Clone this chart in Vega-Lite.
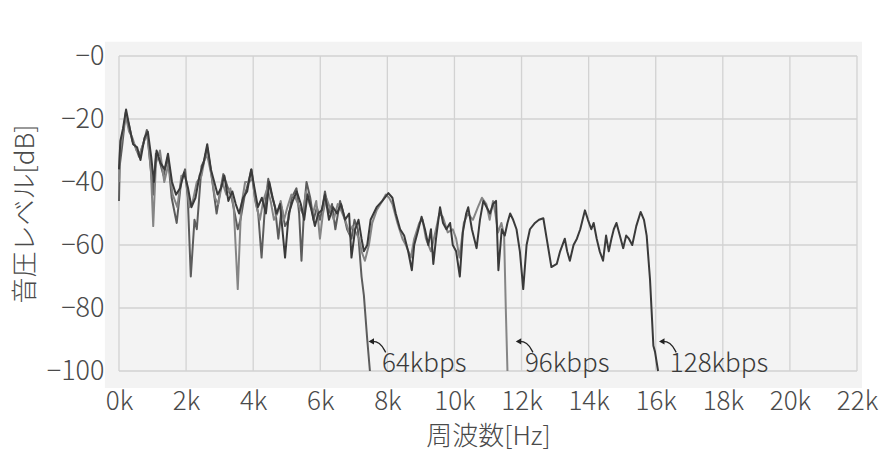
{
  "$schema": "https://vega.github.io/schema/vega-lite/v6.json",
  "autosize": {"type": "none"},
  "width": 738,
  "height": 315,
  "padding": {"left": 119, "top": 56, "right": 33, "bottom": 82},
  "background": "white",
  "config": {
    "view": {"stroke": null},
    "axis": {"grid": false, "domain": false, "ticks": false, "labelFont": "Noto Sans CJK JP", "labelFontSize": 27, "labelFontWeight": 300, "labelColor": "#4a4a4a", "titleFont": "Noto Sans CJK JP", "titleFontSize": 26, "titleColor": "#4a4a4a", "titleFontWeight": 300, "labelOverlap": false, "labelFlush": false, "labelLimit": 400}
  },
  "datasets": {
    "spec": [
      {"s": "64kbps", "f": 0.00, "db": -46}, {"s": "64kbps", "f": 0.02, "db": -35}, {"s": "64kbps", "f": 0.10, "db": -28}, {"s": "64kbps", "f": 0.20, "db": -18}, {"s": "64kbps", "f": 0.30, "db": -22}, {"s": "64kbps", "f": 0.40, "db": -27}, {"s": "64kbps", "f": 0.50, "db": -29}, {"s": "64kbps", "f": 0.60, "db": -32}, {"s": "64kbps", "f": 0.72, "db": -28}, {"s": "64kbps", "f": 0.83, "db": -23.5}, {"s": "64kbps", "f": 0.92, "db": -33}, {"s": "64kbps", "f": 1.02, "db": -44}, {"s": "64kbps", "f": 1.10, "db": -31}, {"s": "64kbps", "f": 1.20, "db": -33}, {"s": "64kbps", "f": 1.33, "db": -38}, {"s": "64kbps", "f": 1.46, "db": -32}, {"s": "64kbps", "f": 1.57, "db": -45}, {"s": "64kbps", "f": 1.72, "db": -53}, {"s": "64kbps", "f": 1.85, "db": -40}, {"s": "64kbps", "f": 1.97, "db": -36}, {"s": "64kbps", "f": 2.05, "db": -45}, {"s": "64kbps", "f": 2.14, "db": -70}, {"s": "64kbps", "f": 2.25, "db": -52}, {"s": "64kbps", "f": 2.32, "db": -55}, {"s": "64kbps", "f": 2.46, "db": -35}, {"s": "64kbps", "f": 2.55, "db": -33}, {"s": "64kbps", "f": 2.63, "db": -29}, {"s": "64kbps", "f": 2.72, "db": -35}, {"s": "64kbps", "f": 2.81, "db": -42}, {"s": "64kbps", "f": 2.91, "db": -50}, {"s": "64kbps", "f": 3.00, "db": -44}, {"s": "64kbps", "f": 3.11, "db": -37.5}, {"s": "64kbps", "f": 3.25, "db": -42}, {"s": "64kbps", "f": 3.36, "db": -45}, {"s": "64kbps", "f": 3.45, "db": -50}, {"s": "64kbps", "f": 3.54, "db": -55}, {"s": "64kbps", "f": 3.62, "db": -52}, {"s": "64kbps", "f": 3.75, "db": -44}, {"s": "64kbps", "f": 3.81, "db": -42}, {"s": "64kbps", "f": 3.95, "db": -36}, {"s": "64kbps", "f": 4.05, "db": -45}, {"s": "64kbps", "f": 4.15, "db": -50}, {"s": "64kbps", "f": 4.25, "db": -64}, {"s": "64kbps", "f": 4.35, "db": -48}, {"s": "64kbps", "f": 4.45, "db": -39}, {"s": "64kbps", "f": 4.55, "db": -44}, {"s": "64kbps", "f": 4.65, "db": -48}, {"s": "64kbps", "f": 4.75, "db": -58}, {"s": "64kbps", "f": 4.85, "db": -48}, {"s": "64kbps", "f": 4.95, "db": -54}, {"s": "64kbps", "f": 5.05, "db": -52}, {"s": "64kbps", "f": 5.15, "db": -45}, {"s": "64kbps", "f": 5.29, "db": -42}, {"s": "64kbps", "f": 5.37, "db": -50}, {"s": "64kbps", "f": 5.44, "db": -65}, {"s": "64kbps", "f": 5.52, "db": -48}, {"s": "64kbps", "f": 5.59, "db": -40}, {"s": "64kbps", "f": 5.70, "db": -45}, {"s": "64kbps", "f": 5.80, "db": -52}, {"s": "64kbps", "f": 5.90, "db": -48}, {"s": "64kbps", "f": 5.99, "db": -52}, {"s": "64kbps", "f": 6.07, "db": -48}, {"s": "64kbps", "f": 6.14, "db": -43}, {"s": "64kbps", "f": 6.25, "db": -50}, {"s": "64kbps", "f": 6.35, "db": -47}, {"s": "64kbps", "f": 6.45, "db": -55}, {"s": "64kbps", "f": 6.59, "db": -46}, {"s": "64kbps", "f": 6.69, "db": -50}, {"s": "64kbps", "f": 6.80, "db": -55}, {"s": "64kbps", "f": 6.93, "db": -58}, {"s": "64kbps", "f": 7.02, "db": -52}, {"s": "64kbps", "f": 7.12, "db": -55}, {"s": "64kbps", "f": 7.23, "db": -70}, {"s": "64kbps", "f": 7.30, "db": -76}, {"s": "64kbps", "f": 7.40, "db": -90}, {"s": "64kbps", "f": 7.48, "db": -100},

      {"s": "96kbps", "f": 0.00, "db": -40}, {"s": "96kbps", "f": 0.03, "db": -30}, {"s": "96kbps", "f": 0.10, "db": -25}, {"s": "96kbps", "f": 0.20, "db": -19}, {"s": "96kbps", "f": 0.30, "db": -24}, {"s": "96kbps", "f": 0.40, "db": -26}, {"s": "96kbps", "f": 0.52, "db": -30}, {"s": "96kbps", "f": 0.62, "db": -31}, {"s": "96kbps", "f": 0.75, "db": -27}, {"s": "96kbps", "f": 0.85, "db": -25}, {"s": "96kbps", "f": 0.95, "db": -36}, {"s": "96kbps", "f": 1.02, "db": -54}, {"s": "96kbps", "f": 1.10, "db": -34}, {"s": "96kbps", "f": 1.22, "db": -30}, {"s": "96kbps", "f": 1.35, "db": -40}, {"s": "96kbps", "f": 1.48, "db": -34}, {"s": "96kbps", "f": 1.60, "db": -44}, {"s": "96kbps", "f": 1.74, "db": -48}, {"s": "96kbps", "f": 1.86, "db": -38}, {"s": "96kbps", "f": 1.98, "db": -38}, {"s": "96kbps", "f": 2.10, "db": -48}, {"s": "96kbps", "f": 2.20, "db": -46}, {"s": "96kbps", "f": 2.32, "db": -40}, {"s": "96kbps", "f": 2.46, "db": -38}, {"s": "96kbps", "f": 2.58, "db": -31}, {"s": "96kbps", "f": 2.66, "db": -33}, {"s": "96kbps", "f": 2.76, "db": -38}, {"s": "96kbps", "f": 2.86, "db": -45}, {"s": "96kbps", "f": 2.96, "db": -47}, {"s": "96kbps", "f": 3.08, "db": -40}, {"s": "96kbps", "f": 3.20, "db": -44}, {"s": "96kbps", "f": 3.32, "db": -42}, {"s": "96kbps", "f": 3.42, "db": -48}, {"s": "96kbps", "f": 3.54, "db": -74}, {"s": "96kbps", "f": 3.64, "db": -48}, {"s": "96kbps", "f": 3.76, "db": -40}, {"s": "96kbps", "f": 3.88, "db": -40}, {"s": "96kbps", "f": 3.98, "db": -39}, {"s": "96kbps", "f": 4.08, "db": -47}, {"s": "96kbps", "f": 4.20, "db": -52}, {"s": "96kbps", "f": 4.30, "db": -46}, {"s": "96kbps", "f": 4.42, "db": -42}, {"s": "96kbps", "f": 4.52, "db": -46}, {"s": "96kbps", "f": 4.62, "db": -52}, {"s": "96kbps", "f": 4.72, "db": -50}, {"s": "96kbps", "f": 4.82, "db": -46}, {"s": "96kbps", "f": 4.92, "db": -52}, {"s": "96kbps", "f": 5.02, "db": -48}, {"s": "96kbps", "f": 5.14, "db": -44}, {"s": "96kbps", "f": 5.26, "db": -45}, {"s": "96kbps", "f": 5.38, "db": -48}, {"s": "96kbps", "f": 5.48, "db": -50}, {"s": "96kbps", "f": 5.58, "db": -43}, {"s": "96kbps", "f": 5.68, "db": -47}, {"s": "96kbps", "f": 5.78, "db": -50}, {"s": "96kbps", "f": 5.88, "db": -46}, {"s": "96kbps", "f": 5.99, "db": -58}, {"s": "96kbps", "f": 6.08, "db": -50}, {"s": "96kbps", "f": 6.18, "db": -45}, {"s": "96kbps", "f": 6.28, "db": -48}, {"s": "96kbps", "f": 6.40, "db": -52}, {"s": "96kbps", "f": 6.52, "db": -47}, {"s": "96kbps", "f": 6.62, "db": -49}, {"s": "96kbps", "f": 6.74, "db": -52}, {"s": "96kbps", "f": 6.86, "db": -56}, {"s": "96kbps", "f": 6.96, "db": -54}, {"s": "96kbps", "f": 7.06, "db": -56}, {"s": "96kbps", "f": 7.16, "db": -58}, {"s": "96kbps", "f": 7.23, "db": -62}, {"s": "96kbps", "f": 7.33, "db": -65}, {"s": "96kbps", "f": 7.45, "db": -60}, {"s": "96kbps", "f": 7.55, "db": -53}, {"s": "96kbps", "f": 7.68, "db": -49}, {"s": "96kbps", "f": 7.85, "db": -46}, {"s": "96kbps", "f": 7.95, "db": -44}, {"s": "96kbps", "f": 8.05, "db": -45}, {"s": "96kbps", "f": 8.15, "db": -47}, {"s": "96kbps", "f": 8.30, "db": -53}, {"s": "96kbps", "f": 8.45, "db": -58}, {"s": "96kbps", "f": 8.55, "db": -60}, {"s": "96kbps", "f": 8.70, "db": -64}, {"s": "96kbps", "f": 8.80, "db": -58}, {"s": "96kbps", "f": 8.95, "db": -53}, {"s": "96kbps", "f": 9.05, "db": -52}, {"s": "96kbps", "f": 9.15, "db": -58}, {"s": "96kbps", "f": 9.30, "db": -62}, {"s": "96kbps", "f": 9.45, "db": -55}, {"s": "96kbps", "f": 9.55, "db": -50}, {"s": "96kbps", "f": 9.65, "db": -51}, {"s": "96kbps", "f": 9.80, "db": -56}, {"s": "96kbps", "f": 9.95, "db": -55}, {"s": "96kbps", "f": 10.05, "db": -58}, {"s": "96kbps", "f": 10.15, "db": -64}, {"s": "96kbps", "f": 10.28, "db": -53}, {"s": "96kbps", "f": 10.40, "db": -50}, {"s": "96kbps", "f": 10.55, "db": -52}, {"s": "96kbps", "f": 10.70, "db": -48}, {"s": "96kbps", "f": 10.82, "db": -45}, {"s": "96kbps", "f": 10.95, "db": -47}, {"s": "96kbps", "f": 11.05, "db": -52}, {"s": "96kbps", "f": 11.15, "db": -46}, {"s": "96kbps", "f": 11.22, "db": -50}, {"s": "96kbps", "f": 11.30, "db": -56}, {"s": "96kbps", "f": 11.40, "db": -53}, {"s": "96kbps", "f": 11.48, "db": -57}, {"s": "96kbps", "f": 11.53, "db": -80}, {"s": "96kbps", "f": 11.58, "db": -100},

      {"s": "128kbps", "f": 0.00, "db": -36}, {"s": "128kbps", "f": 0.04, "db": -27}, {"s": "128kbps", "f": 0.12, "db": -23}, {"s": "128kbps", "f": 0.21, "db": -17}, {"s": "128kbps", "f": 0.32, "db": -23}, {"s": "128kbps", "f": 0.42, "db": -28}, {"s": "128kbps", "f": 0.54, "db": -29}, {"s": "128kbps", "f": 0.64, "db": -33}, {"s": "128kbps", "f": 0.76, "db": -26}, {"s": "128kbps", "f": 0.86, "db": -24}, {"s": "128kbps", "f": 0.96, "db": -32}, {"s": "128kbps", "f": 1.04, "db": -40}, {"s": "128kbps", "f": 1.12, "db": -30}, {"s": "128kbps", "f": 1.24, "db": -34}, {"s": "128kbps", "f": 1.36, "db": -36}, {"s": "128kbps", "f": 1.46, "db": -31}, {"s": "128kbps", "f": 1.58, "db": -40}, {"s": "128kbps", "f": 1.70, "db": -44}, {"s": "128kbps", "f": 1.82, "db": -42}, {"s": "128kbps", "f": 1.94, "db": -37}, {"s": "128kbps", "f": 2.06, "db": -42}, {"s": "128kbps", "f": 2.16, "db": -48}, {"s": "128kbps", "f": 2.28, "db": -45}, {"s": "128kbps", "f": 2.40, "db": -38}, {"s": "128kbps", "f": 2.52, "db": -34}, {"s": "128kbps", "f": 2.63, "db": -28}, {"s": "128kbps", "f": 2.74, "db": -36}, {"s": "128kbps", "f": 2.84, "db": -40}, {"s": "128kbps", "f": 2.94, "db": -44}, {"s": "128kbps", "f": 3.04, "db": -42}, {"s": "128kbps", "f": 3.14, "db": -38}, {"s": "128kbps", "f": 3.26, "db": -46}, {"s": "128kbps", "f": 3.38, "db": -43}, {"s": "128kbps", "f": 3.48, "db": -47}, {"s": "128kbps", "f": 3.58, "db": -50}, {"s": "128kbps", "f": 3.70, "db": -45}, {"s": "128kbps", "f": 3.82, "db": -43}, {"s": "128kbps", "f": 3.94, "db": -36}, {"s": "128kbps", "f": 4.04, "db": -42}, {"s": "128kbps", "f": 4.14, "db": -48}, {"s": "128kbps", "f": 4.26, "db": -45}, {"s": "128kbps", "f": 4.38, "db": -50}, {"s": "128kbps", "f": 4.48, "db": -40}, {"s": "128kbps", "f": 4.58, "db": -45}, {"s": "128kbps", "f": 4.70, "db": -50}, {"s": "128kbps", "f": 4.80, "db": -47}, {"s": "128kbps", "f": 4.95, "db": -64}, {"s": "128kbps", "f": 5.06, "db": -50}, {"s": "128kbps", "f": 5.18, "db": -46}, {"s": "128kbps", "f": 5.30, "db": -43}, {"s": "128kbps", "f": 5.42, "db": -47}, {"s": "128kbps", "f": 5.52, "db": -52}, {"s": "128kbps", "f": 5.62, "db": -44}, {"s": "128kbps", "f": 5.72, "db": -48}, {"s": "128kbps", "f": 5.84, "db": -54}, {"s": "128kbps", "f": 5.94, "db": -50}, {"s": "128kbps", "f": 6.04, "db": -49}, {"s": "128kbps", "f": 6.14, "db": -44}, {"s": "128kbps", "f": 6.26, "db": -52}, {"s": "128kbps", "f": 6.38, "db": -48}, {"s": "128kbps", "f": 6.50, "db": -50}, {"s": "128kbps", "f": 6.62, "db": -47}, {"s": "128kbps", "f": 6.74, "db": -52}, {"s": "128kbps", "f": 6.86, "db": -50}, {"s": "128kbps", "f": 6.93, "db": -64}, {"s": "128kbps", "f": 7.04, "db": -55}, {"s": "128kbps", "f": 7.14, "db": -52}, {"s": "128kbps", "f": 7.23, "db": -58}, {"s": "128kbps", "f": 7.30, "db": -62}, {"s": "128kbps", "f": 7.40, "db": -60}, {"s": "128kbps", "f": 7.50, "db": -52}, {"s": "128kbps", "f": 7.68, "db": -48}, {"s": "128kbps", "f": 7.85, "db": -46}, {"s": "128kbps", "f": 8.03, "db": -43.5}, {"s": "128kbps", "f": 8.15, "db": -45}, {"s": "128kbps", "f": 8.25, "db": -50}, {"s": "128kbps", "f": 8.38, "db": -55}, {"s": "128kbps", "f": 8.50, "db": -57}, {"s": "128kbps", "f": 8.62, "db": -62}, {"s": "128kbps", "f": 8.73, "db": -68}, {"s": "128kbps", "f": 8.80, "db": -60}, {"s": "128kbps", "f": 8.90, "db": -56}, {"s": "128kbps", "f": 9.02, "db": -51}, {"s": "128kbps", "f": 9.12, "db": -55}, {"s": "128kbps", "f": 9.22, "db": -60}, {"s": "128kbps", "f": 9.30, "db": -55}, {"s": "128kbps", "f": 9.37, "db": -66}, {"s": "128kbps", "f": 9.45, "db": -58}, {"s": "128kbps", "f": 9.57, "db": -48}, {"s": "128kbps", "f": 9.66, "db": -53}, {"s": "128kbps", "f": 9.76, "db": -55}, {"s": "128kbps", "f": 9.87, "db": -53}, {"s": "128kbps", "f": 9.95, "db": -60}, {"s": "128kbps", "f": 10.05, "db": -62}, {"s": "128kbps", "f": 10.16, "db": -70}, {"s": "128kbps", "f": 10.25, "db": -56}, {"s": "128kbps", "f": 10.35, "db": -50}, {"s": "128kbps", "f": 10.41, "db": -48}, {"s": "128kbps", "f": 10.52, "db": -55}, {"s": "128kbps", "f": 10.66, "db": -61}, {"s": "128kbps", "f": 10.76, "db": -52}, {"s": "128kbps", "f": 10.86, "db": -46}, {"s": "128kbps", "f": 10.96, "db": -48}, {"s": "128kbps", "f": 11.06, "db": -50}, {"s": "128kbps", "f": 11.15, "db": -47}, {"s": "128kbps", "f": 11.24, "db": -46}, {"s": "128kbps", "f": 11.31, "db": -68}, {"s": "128kbps", "f": 11.41, "db": -55}, {"s": "128kbps", "f": 11.50, "db": -57}, {"s": "128kbps", "f": 11.58, "db": -53}, {"s": "128kbps", "f": 11.66, "db": -50}, {"s": "128kbps", "f": 11.75, "db": -52}, {"s": "128kbps", "f": 11.85, "db": -55}, {"s": "128kbps", "f": 11.95, "db": -62}, {"s": "128kbps", "f": 12.05, "db": -74}, {"s": "128kbps", "f": 12.15, "db": -60}, {"s": "128kbps", "f": 12.25, "db": -55}, {"s": "128kbps", "f": 12.40, "db": -53}, {"s": "128kbps", "f": 12.52, "db": -52}, {"s": "128kbps", "f": 12.65, "db": -51.5}, {"s": "128kbps", "f": 12.75, "db": -58}, {"s": "128kbps", "f": 12.89, "db": -67}, {"s": "128kbps", "f": 13.05, "db": -66}, {"s": "128kbps", "f": 13.15, "db": -62}, {"s": "128kbps", "f": 13.29, "db": -58}, {"s": "128kbps", "f": 13.36, "db": -62}, {"s": "128kbps", "f": 13.44, "db": -65}, {"s": "128kbps", "f": 13.55, "db": -60}, {"s": "128kbps", "f": 13.65, "db": -58}, {"s": "128kbps", "f": 13.75, "db": -55}, {"s": "128kbps", "f": 13.89, "db": -49}, {"s": "128kbps", "f": 13.98, "db": -52}, {"s": "128kbps", "f": 14.08, "db": -55}, {"s": "128kbps", "f": 14.15, "db": -53}, {"s": "128kbps", "f": 14.24, "db": -58}, {"s": "128kbps", "f": 14.33, "db": -62}, {"s": "128kbps", "f": 14.43, "db": -65}, {"s": "128kbps", "f": 14.52, "db": -57}, {"s": "128kbps", "f": 14.60, "db": -62}, {"s": "128kbps", "f": 14.68, "db": -58}, {"s": "128kbps", "f": 14.75, "db": -55}, {"s": "128kbps", "f": 14.83, "db": -53}, {"s": "128kbps", "f": 14.93, "db": -57}, {"s": "128kbps", "f": 15.03, "db": -61}, {"s": "128kbps", "f": 15.12, "db": -57}, {"s": "128kbps", "f": 15.20, "db": -58}, {"s": "128kbps", "f": 15.30, "db": -60}, {"s": "128kbps", "f": 15.42, "db": -54}, {"s": "128kbps", "f": 15.55, "db": -49.5}, {"s": "128kbps", "f": 15.65, "db": -52}, {"s": "128kbps", "f": 15.73, "db": -57}, {"s": "128kbps", "f": 15.83, "db": -71}, {"s": "128kbps", "f": 15.93, "db": -92}, {"s": "128kbps", "f": 15.98, "db": -94}, {"s": "128kbps", "f": 16.07, "db": -100}
    ],
    "panel": [{"x1": -0.42, "x2": 22.15, "y1": -105.4, "y2": 4.5}],
    "vgrid": [{"v": 0}, {"v": 2}, {"v": 4}, {"v": 6}, {"v": 8}, {"v": 10}, {"v": 12}, {"v": 14}, {"v": 16}, {"v": 18}, {"v": 20}, {"v": 22}],
    "hgrid": [{"v": 0}, {"v": -20}, {"v": -40}, {"v": -60}, {"v": -80}, {"v": -100}],
    "labels": [
      {"label": "64kbps", "f": 7.84, "db": -100.4},
      {"label": "96kbps", "f": 12.1, "db": -100.4},
      {"label": "128kbps", "f": 16.42, "db": -100.4}
    ],
    "arrows": [
      {"a": "64kbps", "i": 0, "f": 7.49, "db": -90.6}, {"a": "64kbps", "i": 1, "f": 7.78, "db": -90.7}, {"a": "64kbps", "i": 2, "f": 7.95, "db": -94.1},
      {"a": "96kbps", "i": 0, "f": 11.88, "db": -90.6}, {"a": "96kbps", "i": 1, "f": 12.17, "db": -90.7}, {"a": "96kbps", "i": 2, "f": 12.34, "db": -94.1},
      {"a": "128kbps", "i": 0, "f": 16.15, "db": -90.6}, {"a": "128kbps", "i": 1, "f": 16.44, "db": -90.7}, {"a": "128kbps", "i": 2, "f": 16.61, "db": -94.1}
    ],
    "heads": [
      {"f": 7.52, "db": -90.6}, {"f": 11.91, "db": -90.6}, {"f": 16.18, "db": -90.6}
    ]
  },
  "layer": [
    {
      "data": {"name": "panel"},
      "mark": {"type": "rect", "fill": "#f3f3f3", "clip": false},
      "encoding": {
        "x": {"field": "x1", "type": "quantitative", "scale": {"domain": [0, 22], "nice": false, "zero": false}, "title": "周波数[Hz]", "axis": {"zindex": 1, "values": [0, 2, 4, 6, 8, 10, 12, 14, 16, 18, 20, 22], "labelExpr": "datum.value + 'k'", "labelFontSize": 26, "labelPadding": 17, "titlePadding": 9}},
        "x2": {"field": "x2"},
        "y": {"field": "y1", "type": "quantitative", "scale": {"domain": [-100, 0], "nice": false, "zero": false}, "title": "音圧レベル[dB]", "axis": {"zindex": 1, "values": [0, -20, -40, -60, -80, -100], "labelExpr": "datum.value === 0 ? '−0' : datum.label", "labelPadding": 15, "titlePadding": 8}},
        "y2": {"field": "y2"}
      }
    },
    {
      "data": {"name": "vgrid"},
      "mark": {"type": "rule", "color": "#d2d2d2", "strokeWidth": 1.3},
      "encoding": {
        "x": {"field": "v", "type": "quantitative", "title": "周波数[Hz]"},
        "y": {"datum": -100, "type": "quantitative", "title": "音圧レベル[dB]"},
        "y2": {"datum": 0}
      }
    },
    {
      "data": {"name": "hgrid"},
      "mark": {"type": "rule", "color": "#d2d2d2", "strokeWidth": 1.3},
      "encoding": {
        "y": {"field": "v", "type": "quantitative", "title": "音圧レベル[dB]"},
        "x": {"datum": 0, "type": "quantitative", "title": "周波数[Hz]"},
        "x2": {"datum": 22}
      }
    },
    {
      "data": {"name": "spec"},
      "mark": {"type": "line", "strokeWidth": 2, "strokeJoin": "round"},
      "encoding": {
        "x": {"field": "f", "type": "quantitative", "title": "周波数[Hz]"},
        "y": {"field": "db", "type": "quantitative", "title": "音圧レベル[dB]"},
        "color": {"field": "s", "type": "nominal", "scale": {"domain": ["128kbps", "96kbps", "64kbps"], "range": ["#3a3a3a", "#858585", "#5c5c5c"]}, "legend": null},
        "order": {"field": "f", "type": "quantitative"}
      }
    },
    {
      "data": {"name": "arrows"},
      "mark": {"type": "line", "interpolate": "basis", "color": "#222222", "strokeWidth": 1.3},
      "encoding": {
        "x": {"field": "f", "type": "quantitative", "title": "周波数[Hz]"},
        "y": {"field": "db", "type": "quantitative", "title": "音圧レベル[dB]"},
        "detail": {"field": "a"},
        "order": {"field": "i", "type": "quantitative"}
      }
    },
    {
      "data": {"name": "heads"},
      "mark": {"type": "point", "shape": "triangle-left", "filled": true, "color": "#222222", "size": 40, "opacity": 1},
      "encoding": {
        "x": {"field": "f", "type": "quantitative", "title": "周波数[Hz]"},
        "y": {"field": "db", "type": "quantitative", "title": "音圧レベル[dB]"}
      }
    },
    {
      "data": {"name": "labels"},
      "mark": {"type": "text", "align": "left", "baseline": "alphabetic", "font": "Noto Sans CJK JP", "fontSize": 26, "fontWeight": 300, "color": "#3a3a3a"},
      "encoding": {
        "x": {"field": "f", "type": "quantitative", "title": "周波数[Hz]"},
        "y": {"field": "db", "type": "quantitative", "title": "音圧レベル[dB]"},
        "text": {"field": "label"}
      }
    }
  ]
}
